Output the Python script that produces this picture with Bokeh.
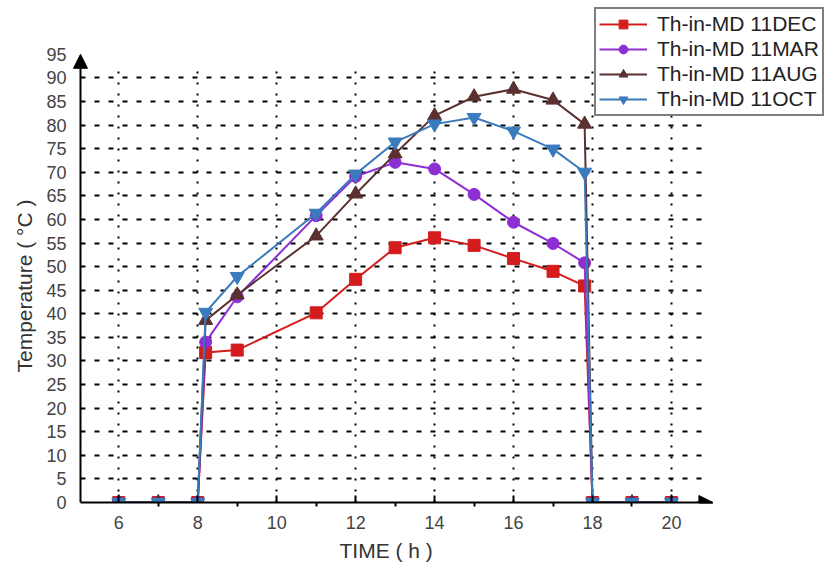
from bokeh.plotting import figure
from bokeh.models import (Range1d, FixedTicker, Legend, LegendItem, Arrow,
                          NormalHead, ColumnDataSource, Title)
from bokeh.embed import file_html
from bokeh.resources import INLINE

# ---- data ----
hours = [6, 7, 8, 8.2, 9, 11, 12, 13, 14, 15, 16, 17, 17.8, 18, 19, 20]
dec = [0, 0, 0, 31.8, 32.3, 40.2, 47.3, 54.0, 56.1, 54.5, 51.7, 49.0, 45.9, 0, 0, 0]
mar = [0, 0, 0, 34.0, 43.6, 60.8, 69.1, 72.1, 70.7, 65.3, 59.4, 54.9, 50.8, 0, 0, 0]
aug = [0, 0, 0, 38.6, 44.0, 56.5, 65.4, 73.9, 82.0, 86.0, 87.6, 85.3, 80.2, 0, 0, 0]
oct_ = [0, 0, 0, 40.3, 47.9, 61.3, 69.6, 76.4, 80.2, 81.6, 78.7, 74.9, 70.0, 0, 0, 0]

labels = ["Th-in-MD 11DEC", "Th-in-MD 11MAR", "Th-in-MD 11AUG", "Th-in-MD 11OCT"]
x_ticks = [6, 8, 10, 12, 14, 16, 18, 20]
x_minor = [7, 9, 11, 13, 15, 17, 19]
y_ticks = list(range(0, 100, 5))
y_grid = list(range(5, 95, 5))

# axis extents (data units)
X_AXIS, X_END = 5.03, 21.05
Y_MIN, Y_END = 0, 95
# visible window
X_VIEW = (4.726, 24.13)
Y_VIEW = (0, 106.4)

FONT = "Liberation Sans"

p = figure(width=834, height=572, output_backend="svg", toolbar_location=None,
           x_range=Range1d(*X_VIEW), y_range=Range1d(*Y_VIEW),
           min_border_left=68, min_border_right=0, min_border_top=0,
           min_border_bottom=70, background_fill_color="white",
           border_fill_color="white")
p.outline_line_color = None

# x axis (at the bottom edge of the frame)
xa = p.xaxis[0]
xa.ticker = FixedTicker(ticks=x_ticks, minor_ticks=x_minor)
xa.bounds = (X_AXIS, X_END)
xa.axis_line_color = "black"
xa.axis_line_width = 2
xa.major_tick_line_color = "black"
xa.major_tick_line_width = 2
xa.minor_tick_line_color = "black"
xa.minor_tick_line_width = 2
xa.major_tick_in = 7
xa.major_tick_out = 0
xa.minor_tick_in = 0
xa.minor_tick_out = 4
xa.major_label_standoff = 9
xa.major_label_text_font = FONT
xa.major_label_text_font_size = "18px"
xa.major_label_text_color = "#444444"

# y axis: labels only; the axis line is drawn as an arrow at X_AXIS
ya = p.yaxis[0]
ya.ticker = FixedTicker(ticks=y_ticks)
ya.axis_line_color = None
ya.major_tick_line_color = None
ya.minor_tick_line_color = None
ya.major_tick_in = 0
ya.major_tick_out = 0
ya.major_label_standoff = 2
ya.major_label_text_font = FONT
ya.major_label_text_font_size = "18px"
ya.major_label_text_color = "#444444"

# axis titles
p.add_layout(Title(text="TIME ( h )", align="left", offset=271,
                   text_font=FONT, text_font_size="21px",
                   text_font_style="normal", text_color="#333333"), "below")
p.add_layout(Title(text="Temperature ( \u00b0C )", align="left", offset=130,
                   standoff=16,
                   text_font=FONT, text_font_size="21px",
                   text_font_style="normal", text_color="#333333"), "left")

# grids
p.xgrid.ticker = FixedTicker(ticks=x_ticks)
p.ygrid.ticker = FixedTicker(ticks=y_grid)
p.xgrid.cross_bounds = (Y_MIN, 93)
p.ygrid.cross_bounds = (X_AXIS, X_END - 0.1)
p.xgrid.grid_line_color = "black"
p.xgrid.grid_line_width = 2
p.xgrid.grid_line_dash = "2 9"
p.ygrid.grid_line_color = "black"
p.ygrid.grid_line_width = 2
p.ygrid.grid_line_dash = "5 9"

# series
series = [
    (dec, "#d41c1c", "square", 12),
    (mar, "#8e2fd4", "circle", 12),
    (aug, "#5a3030", "triangle", 14),
    (oct_, "#3a7bbd", "inverted_triangle", 14),
]
items = []
for (vals, color, marker, size), lab in zip(series, labels):
    src = ColumnDataSource(dict(x=hours, y=vals))
    ln = p.line("x", "y", source=src, line_color=color, line_width=2)
    sc = p.scatter("x", "y", source=src, marker=marker, size=size,
                   fill_color=color, line_color=color)
    items.append(LegendItem(label=lab, renderers=[ln, sc]))

legend = Legend(items=items, location=(526, 386), orientation="vertical",
                label_text_font=FONT, label_text_font_size="21px",
                label_text_color="#222222", glyph_width=48, glyph_height=22,
                label_standoff=10, spacing=1, padding=3, margin=0,
                border_line_color="black", border_line_width=2,
                background_fill_color="white", background_fill_alpha=1.0)
p.add_layout(legend, "center")

# axis lines with arrow heads
p.add_layout(Arrow(x_start=X_END - 0.4, y_start=Y_MIN, x_end=X_END, y_end=Y_MIN,
                   line_width=2, line_color="black",
                   end=NormalHead(size=14, fill_color="black", line_color="black")))
p.add_layout(Arrow(x_start=X_AXIS, y_start=Y_MIN, x_end=X_AXIS, y_end=Y_END,
                   line_width=2, line_color="black",
                   end=NormalHead(size=14, fill_color="black", line_color="black")))

open("out.html", "w").write(file_html(p, INLINE))
